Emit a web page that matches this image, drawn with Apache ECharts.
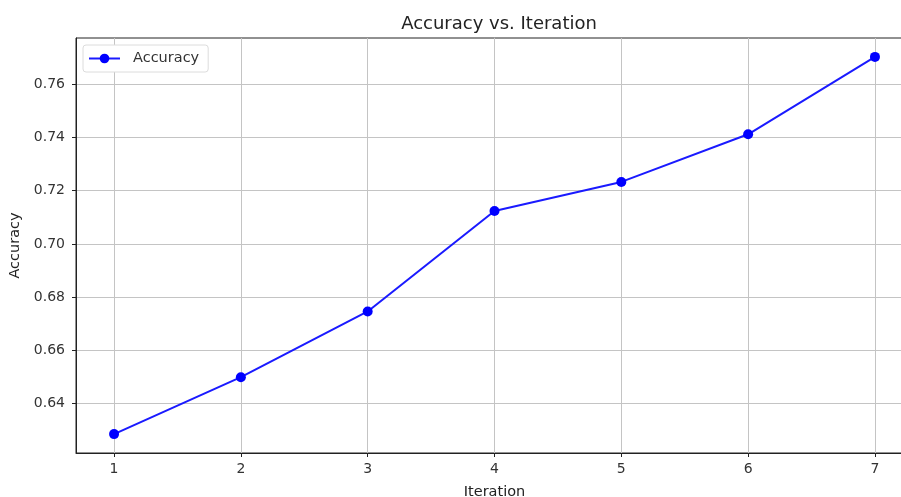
<!DOCTYPE html>
<html>
<head>
<meta charset="utf-8">
<script src="https://cdn.jsdelivr.net/npm/echarts@6/dist/echarts.min.js"></script>
<style>html,body{margin:0;padding:0;background:#fff;overflow:hidden;width:901px;height:497px}#c{width:914px;height:497px}</style>
</head>
<body>
<div id="c"></div>
<script>
var iterations = [1, 2, 3, 4, 5, 6, 7];
var accuracy = [0.6285, 0.6499, 0.6746, 0.7124, 0.7233, 0.7412, 0.7703];
var xTicks = [1, 2, 3, 4, 5, 6, 7];
var yTicks = [0.64, 0.66, 0.68, 0.70, 0.72, 0.74, 0.76];

var chart = echarts.init(document.getElementById('c'), null, {renderer: 'canvas'});
var font = 'DejaVu Sans';
var gridColor = '#c4c4c4';
chart.setOption({
  animation: false,
  backgroundColor: '#fff',
  title: {
    text: 'Accuracy vs. Iteration',
    left: 494, top: 10, textAlign: 'center',
    textStyle: {fontFamily: font, fontSize: 18, fontWeight: 'normal', color: '#222'}
  },
  legend: {
    left: 83, top: 45,
    data: ['Accuracy'],
    itemWidth: 31, itemHeight: 12, itemGap: 10,
    backgroundColor: '#fff',
    borderColor: '#dcdcdc', borderWidth: 1, borderRadius: 3,
    padding: [6, 9, 6, 5],
    textStyle: {fontFamily: font, fontSize: 14.5, color: '#333', padding: [0, 0, 0, 8]}
  },
  grid: {left: 76, right: 1, top: 38, bottom: 44, show: true, borderColor: '#222', borderWidth: 1, containLabel: false, outerBoundsMode: 'none'},
  xAxis: {
    type: 'value', min: 0.7, max: 7.3,
    name: 'Iteration', nameLocation: 'middle', nameGap: 32,
    nameTextStyle: {fontFamily: font, fontSize: 14.5, color: '#222'},
    axisLine: {show: true, lineStyle: {color: '#222', width: 1}},
    axisTick: {show: true, length: 4, lineStyle: {color: '#222'}, customValues: xTicks},
    axisLabel: {fontFamily: font, fontSize: 14, color: '#333', margin: 9, customValues: xTicks, formatter: function(v){return String(v);}},
    splitLine: {show: true, lineStyle: {color: gridColor, width: 1}}
  },
  yAxis: {
    type: 'value', min: 0.6214, max: 0.7774,
    name: 'Accuracy', nameLocation: 'middle', nameGap: 51,
    nameTextStyle: {fontFamily: font, fontSize: 14.5, color: '#222'},
    axisLine: {show: true, lineStyle: {color: '#222', width: 1}},
    axisTick: {show: true, length: 4, lineStyle: {color: '#222'}, customValues: yTicks},
    axisLabel: {fontFamily: font, fontSize: 14, color: '#333', margin: 11, customValues: yTicks, formatter: function(v){return v.toFixed(2);}},
    splitLine: {show: true, lineStyle: {color: gridColor, width: 1}}
  },
  series: [{
    name: 'Accuracy', type: 'line',
    data: iterations.map(function(x, i){return [x, accuracy[i]];}),
    symbol: 'circle', symbolSize: 10,
    lineStyle: {color: '#1a1aff', width: 2},
    itemStyle: {color: '#0000ff'}
  }]
});
</script>
</body>
</html>
